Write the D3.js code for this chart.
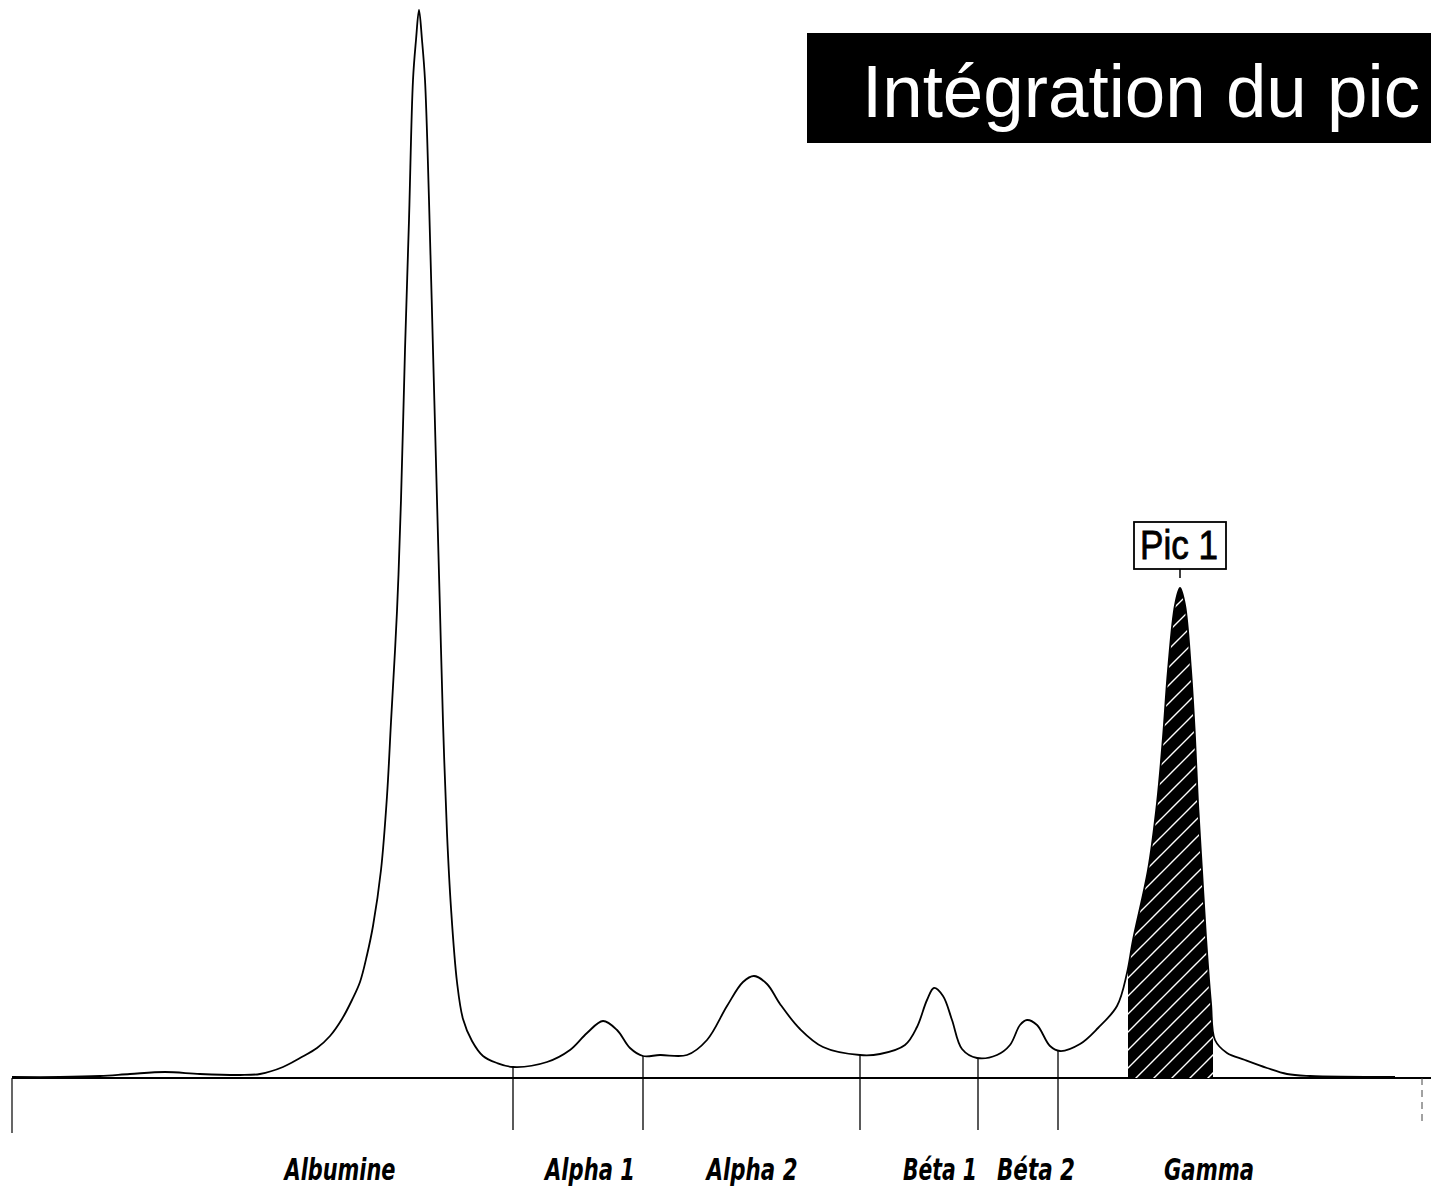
<!DOCTYPE html>
<html>
<head>
<meta charset="utf-8">
<script src="https://cdn.jsdelivr.net/npm/d3@7"></script>
<style>
  html, body { margin: 0; padding: 0; background: #fff; overflow: hidden; }
  svg { display: block; }
</style>
</head>
<body>
<svg id="chart" width="1431" height="1188"></svg>
<script>
// ---- Data ----
// mobility (arbitrary units along the strip) and density (arbitrary units)
const mobility = [0, 48, 88, 118, 153, 188, 228, 248, 271, 288, 305, 318, 330, 340, 348, 355, 361, 369, 375, 379, 385, 389, 393, 397, 401, 404, 407, 410, 413, 417, 421, 425, 428, 431, 435, 439, 445, 451, 460, 471, 485, 501, 535, 558, 575, 591, 605, 618, 631, 648, 675, 695, 715, 731, 742, 755, 768, 788, 811, 848, 868, 893, 905, 915, 922, 931, 940, 950, 965, 985, 998, 1008, 1015, 1025, 1038, 1048, 1068, 1086, 1105, 1115, 1121, 1136, 1145, 1151, 1156, 1163, 1168, 1173, 1179, 1183, 1186, 1190, 1194, 1199, 1203, 1215, 1233, 1255, 1275, 1298, 1383];
const density  = [1, 1, 2, 4, 6, 4, 3, 4, 11, 20, 30, 42, 59, 78, 96, 123, 152, 208, 282, 356, 467, 578, 728, 858, 998, 1038, 1068, 1038, 998, 878, 728, 578, 467, 356, 245, 170, 96, 59, 37, 22, 15, 11, 16, 28, 45, 57, 48, 30, 22, 23, 23, 38, 72, 96, 102, 94, 74, 49, 31, 23, 24, 33, 51, 78, 90, 82, 58, 29, 20, 23, 33, 53, 58, 53, 32, 27, 34, 50, 72, 105, 138, 208, 275, 341, 408, 473, 490, 473, 408, 341, 275, 208, 141, 75, 38, 25, 18, 10, 4, 2, 1];

// fraction boundaries (valleys) : position and curve density there
const boundaryPos     = [501, 631, 848, 966, 1046];
const boundaryDensity = [11, 22, 23, 20, 27];

// fraction labels
const fractions      = ["Albumine", "Alpha 1", "Alpha 2", "Béta 1", "Béta 2", "Gamma"];
const fractionCenter = [328, 578, 740, 928, 1024, 1197];
const fractionWidth  = [111, 90, 91, 74, 78, 90];

// integrated peak
const peakName  = "Pic 1";
const peakStart = 1116;
const peakEnd   = 1201;
const peakApex  = 1168;
const peakApexDensity = 490;

const titleText = "Intégration du pic";

// ---- Scales ----
const svg = d3.select("#chart");
const x = d3.scaleLinear().domain([0, 1410]).range([12, 1422]);
const y = d3.scaleLinear().domain([0, 1068]).range([1078, 10]);
const baseY = y(0);
const tickBottom = 1130;

const pts = mobility.map((m, i) => [m, density[i]]);
const curve = d3.curveCatmullRom.alpha(0.5);

// ---- Hatch pattern ----
const defs = svg.append("defs");
const pat = defs.append("pattern")
  .attr("id", "hatch").attr("patternUnits", "userSpaceOnUse")
  .attr("width", 18).attr("height", 18);
pat.append("rect").attr("width", 18).attr("height", 18).attr("fill", "#000");
pat.append("path")
  .attr("d", "M0,18 L18,0 M-4.5,4.5 L4.5,-4.5 M13.5,22.5 L22.5,13.5")
  .attr("stroke", "#fff").attr("stroke-width", 1.4);

defs.append("clipPath").attr("id", "peakClip")
  .append("rect")
  .attr("x", x(peakStart)).attr("y", 0)
  .attr("width", x(peakEnd) - x(peakStart)).attr("height", baseY);

// ---- Baseline ----
svg.append("line")
  .attr("x1", x(0)).attr("x2", 1431)
  .attr("y1", baseY).attr("y2", baseY)
  .attr("stroke", "#000").attr("stroke-width", 1.8);

// ---- Hatched area for integrated peak ----
const area = d3.area()
  .x(d => x(d[0])).y0(baseY).y1(d => y(d[1]))
  .curve(curve);
svg.append("path")
  .datum(pts)
  .attr("d", area)
  .attr("fill", "url(#hatch)")
  .attr("clip-path", "url(#peakClip)");

// ---- Curve ----
const line = d3.line()
  .x(d => x(d[0])).y(d => y(d[1]))
  .curve(curve);
svg.append("path")
  .datum(pts)
  .attr("d", line)
  .attr("fill", "none")
  .attr("stroke", "#000")
  .attr("stroke-width", 1.8)
  .attr("stroke-linejoin", "round");

// ---- Boundary lines ----
svg.append("line")
  .attr("x1", x(0)).attr("x2", x(0))
  .attr("y1", baseY).attr("y2", 1133)
  .attr("stroke", "#000").attr("stroke-width", 1.2);
svg.selectAll("line.bnd")
  .data(boundaryPos)
  .join("line")
  .attr("class", "bnd")
  .attr("x1", d => x(d)).attr("x2", d => x(d))
  .attr("y1", (d, i) => y(boundaryDensity[i]))
  .attr("y2", tickBottom)
  .attr("stroke", "#000").attr("stroke-width", 1.3);
svg.append("line")
  .attr("x1", x(1410)).attr("x2", x(1410))
  .attr("y1", baseY).attr("y2", 1125)
  .attr("stroke", "#444").attr("stroke-width", 1)
  .attr("stroke-dasharray", "7,5");

// ---- Fraction labels ----
svg.selectAll("text.frac")
  .data(fractions)
  .join("text")
  .attr("class", "frac")
  .attr("x", (d, i) => x(fractionCenter[i]) - fractionWidth[i] / 2)
  .attr("y", 1180)
  .attr("textLength", (d, i) => fractionWidth[i])
  .attr("lengthAdjust", "spacingAndGlyphs")
  .attr("font-family", "'DejaVu Sans Condensed', 'DejaVu Sans', sans-serif")
  .attr("font-style", "italic")
  .attr("font-weight", "bold")
  .attr("font-size", 30)
  .attr("fill", "#000")
  .text(d => d);

// ---- Peak label box ----
const boxW = 92, boxH = 47;
const apexX = x(peakApex);
const boxBottom = y(peakApexDensity) - 19;
svg.append("line")
  .attr("x1", apexX).attr("x2", apexX)
  .attr("y1", boxBottom).attr("y2", boxBottom + 9)
  .attr("stroke", "#000").attr("stroke-width", 1.5);
svg.append("rect")
  .attr("x", apexX - 46).attr("y", boxBottom - boxH)
  .attr("width", boxW).attr("height", boxH)
  .attr("fill", "#fff").attr("stroke", "#000").attr("stroke-width", 1.8);
svg.append("text")
  .attr("x", apexX - 40).attr("y", boxBottom - 10)
  .attr("textLength", 78).attr("lengthAdjust", "spacingAndGlyphs")
  .attr("font-family", "'Liberation Sans', Arial, sans-serif")
  .attr("font-size", 40)
  .attr("fill", "#000")
  .attr("stroke", "#000").attr("stroke-width", 0.8)
  .text(peakName);

// ---- Title ----
svg.append("rect")
  .attr("x", 807).attr("y", 33)
  .attr("width", 624).attr("height", 110)
  .attr("fill", "#000");
svg.append("text")
  .attr("x", 862).attr("y", 117)
  .attr("textLength", 558).attr("lengthAdjust", "spacingAndGlyphs")
  .attr("font-family", "'Liberation Sans', Arial, sans-serif")
  .attr("font-size", 75)
  .attr("fill", "#fff")
  .text(titleText);
</script>
</body>
</html>
